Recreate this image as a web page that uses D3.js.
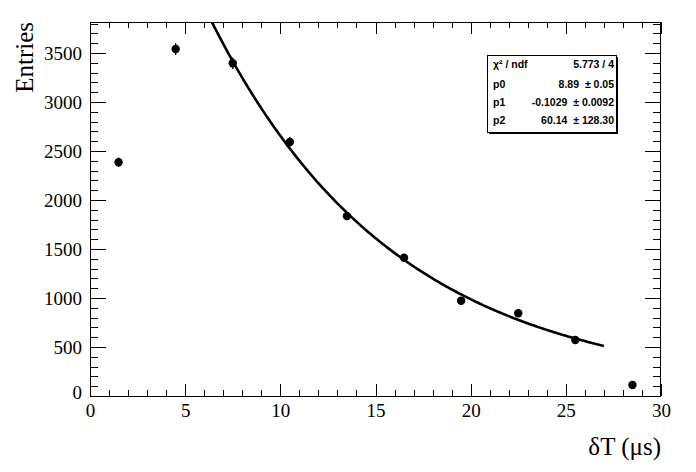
<!DOCTYPE html>
<html>
<head>
<meta charset="utf-8">
<script src="https://cdn.jsdelivr.net/npm/d3@7"></script>
<style>
html,body{margin:0;padding:0;background:#fff;}
svg{display:block;}
.tl text{font-family:'Liberation Serif','Times New Roman',serif !important;font-size:19px;fill:#000;}
</style>
</head>
<body>
<svg id="chart" width="696" height="472"></svg>
<script>
// ---- data ----
const xValues = [1.5, 4.5, 7.5, 10.5, 13.5, 16.5, 19.5, 22.5, 25.5, 28.5];
const yValues = [2385, 3540, 3395, 2592, 1835, 1410, 972, 845, 572, 112];
const yErrors = [49, 60, 58, 51, 43, 38, 31, 29, 24, 11];
const xTicks = [0, 5, 10, 15, 20, 25, 30];
const yTicks = [0, 500, 1000, 1500, 2000, 2500, 3000, 3500];
// fit: exp(p0 + p1*x) + p2, range [6, 27]
const fitParams = [8.89, -0.1029, 60.14];
const fitRange = [6, 27];
const statLabels = ["\u03C7\u00B2 / ndf", "p0", "p1", "p2"];
const statValues = ["5.773 / 4", "8.89  \u00B1 0.05", "-0.1029  \u00B1 0.0092", "60.14  \u00B1 128.30"];

const svg = d3.select("#chart");
const L = 90, R = 661, T = 22, B = 396;
const x = d3.scaleLinear().domain([0, 30]).range([L, R]);
const y = d3.scaleLinear().domain([0, 3816]).range([B, T]);

const serif = "'Liberation Serif', 'Times New Roman', serif";
const sans = "'Liberation Sans', Arial, Helvetica, sans-serif";

// clip
svg.append("clipPath").attr("id", "clip").append("rect")
  .attr("x", L).attr("y", T).attr("width", R - L).attr("height", B - T);

const xMinor = d3.range(0, 31, 1);
const yMinor = d3.range(0, 3816, 100);

const xAxisB = d3.axisBottom(x).tickValues(xTicks).tickSize(0).tickPadding(8).tickFormat(d3.format("d"));
const gx = svg.append("g").attr("class", "tl").attr("transform", `translate(0,${B})`).call(xAxisB);
gx.attr("font-family", serif).attr("font-size", 19);
gx.select(".domain").remove();

const yAxisL = d3.axisLeft(y).tickValues(yTicks).tickSize(0).tickPadding(8).tickFormat(d3.format("d"));
const gy = svg.append("g").attr("class", "tl").attr("transform", `translate(${L},0)`).call(yAxisL);
gy.attr("font-family", serif).attr("font-size", 19);
gy.select(".domain").remove();
gy.selectAll("text").filter(d => d === 0).attr("dy", "0.15em");

// tick marks on all four sides
const tk = svg.append("g").attr("stroke", "#000").attr("stroke-width", 1).attr("shape-rendering", "crispEdges");
xMinor.forEach(v => {
  const major = v % 5 === 0;
  const px = Math.round(x(v)) + 0.5;
  tk.append("line").attr("x1", px).attr("x2", px).attr("y1", B).attr("y2", B - (major ? 12 : 6));
  tk.append("line").attr("x1", px).attr("x2", px).attr("y1", T).attr("y2", T + (major ? 12 : 6));
});
yMinor.forEach(v => {
  const major = v % 500 === 0;
  const py = Math.round(y(v)) + 0.5;
  tk.append("line").attr("x1", L).attr("x2", L + (major ? 16 : 8)).attr("y1", py).attr("y2", py);
  tk.append("line").attr("x1", R).attr("x2", R - (major ? 16 : 8)).attr("y1", py).attr("y2", py);
});

// frame
svg.append("rect").attr("x", L + 0.5).attr("y", T + 0.5).attr("width", R - L - 1).attr("height", B - T)
  .attr("fill", "none").attr("stroke", "#000").attr("stroke-width", 1).attr("shape-rendering", "crispEdges");

// axis titles
svg.append("text").attr("transform", `translate(33,22) rotate(-90)`)
  .attr("text-anchor", "end").style("font-family", serif).style("font-size", "25px").text("Entries");
svg.append("text").attr("x", R).attr("y", 455)
  .attr("text-anchor", "end").style("font-family", serif).style("font-size", "25px").text("\u03B4T (\u03BCs)");

// fit curve
const f = v => Math.exp(fitParams[0] + fitParams[1] * v) + fitParams[2];
const fitPts = d3.range(0, 201).map(i => fitRange[0] + (fitRange[1] - fitRange[0]) * i / 200);
svg.append("path").attr("clip-path", "url(#clip)")
  .datum(fitPts)
  .attr("d", d3.line().x(d => x(d)).y(d => y(f(d))))
  .attr("fill", "none").attr("stroke", "#000").attr("stroke-width", 2.6);

// data points
const pts = svg.append("g").attr("clip-path", "url(#clip)");
xValues.forEach((xv, i) => {
  pts.append("line").attr("x1", x(xv)).attr("x2", x(xv))
    .attr("y1", y(yValues[i] - yErrors[i])).attr("y2", y(yValues[i] + yErrors[i]))
    .attr("stroke", "#000").attr("stroke-width", 1.3);
  pts.append("circle").attr("cx", x(xv)).attr("cy", y(yValues[i])).attr("r", 4.2).attr("fill", "#000");
});

// stats box
const bx = 487, by = 55, bw = 129, bh = 77;
svg.append("rect").attr("x", bx + 2).attr("y", by + 2).attr("width", bw).attr("height", bh).attr("fill", "#000");
svg.append("rect").attr("x", bx + 0.5).attr("y", by + 0.5).attr("width", bw).attr("height", bh)
  .attr("fill", "#fff").attr("stroke", "#000").attr("stroke-width", 1).attr("shape-rendering", "crispEdges");
const rowY = [68, 88, 106, 124];
statLabels.forEach((lab, i) => {
  svg.append("text").attr("x", bx + 6).attr("y", rowY[i]).style("font-family", sans).style("font-weight", "bold")
    .style("font-size", "10.5px").text(lab);
  svg.append("text").attr("x", bx + bw - 2).attr("y", rowY[i]).attr("text-anchor", "end").style("font-family", sans)
    .style("font-weight", "bold").style("font-size", "10.5px").style("white-space", "pre").text(statValues[i]);
});
</script>
</body>
</html>
